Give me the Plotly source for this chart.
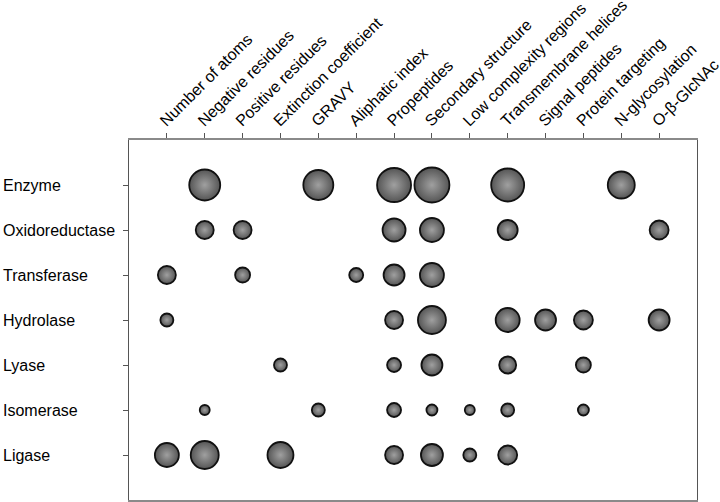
import plotly.graph_objects as go

features = ["Number of atoms", "Negative residues", "Positive residues", "Extinction coefficient",
            "GRAVY", "Aliphatic index", "Propeptides", "Secondary structure",
            "Low complexity regions", "Transmembrane helices", "Signal peptides",
            "Protein targeting", "N-glycosylation", "O-β-GlcNAc"]
classes = ["Enzyme", "Oxidoreductase", "Transferase", "Hydrolase", "Lyase", "Isomerase", "Ligase"]

# bubble magnitude per class, one value per feature (None = no bubble)
enzyme         = [None, 31, None, None, 30, None, 34, 35, None, 33, None, None, 27, None]
oxidoreductase = [None, 18, 18, None, None, None, 23, 24, None, 20, None, None, None, 19]
transferase    = [18, None, 15, None, None, 14, 21, 24, None, None, None, None, None, None]
hydrolase      = [13, None, None, None, None, None, 18, 28, None, 24, 21, 19, None, 21]
lyase          = [None, None, None, 13, None, None, 14, 21, None, 17, None, 15, None, None]
isomerase      = [None, 10, None, None, 13, None, 14, 11, 10, 13, None, 11, None, None]
ligase         = [24, 28, None, 26, None, None, 18, 22, 13, 19, None, None, None, None]

rows = [enzyme, oxidoreductase, transferase, hydrolase, lyase, isomerase, ligase]

xs, ys, ss = [], [], []
for cls, vals in zip(classes, rows):
    for feat, v in zip(features, vals):
        if v is not None:
            xs.append(feat)
            ys.append(cls)
            ss.append(v)

FONT = "Arial, Liberation Sans, sans-serif"

fig = go.Figure(go.Scatter(
    x=xs, y=ys, mode="markers",
    marker=dict(size=ss, sizemode="diameter", color="#555555",
                gradient=dict(type="radial", color="#a0a0a0"),
                line=dict(color="#111111", width=1.8), opacity=1),
    hoverinfo="skip", showlegend=False,
))

annotations = []
for cls in classes:
    annotations.append(dict(x=(1 - 129) / 568, xref="paper", y=cls, yref="y",
                            text=cls, showarrow=False, xanchor="left", yanchor="middle",
                            font=dict(family=FONT, size=16, color="#000000")))

fig.update_layout(
    width=720, height=502,
    margin=dict(l=129, r=23, t=140, b=2, autoexpand=False),
    paper_bgcolor="white", plot_bgcolor="white",
    font=dict(family=FONT, size=16, color="#000000"),
    annotations=annotations,
    xaxis=dict(type="category", categoryorder="array", categoryarray=features,
               side="top", range=[-1, 14], tickangle=-45, showgrid=False, zeroline=False,
               automargin=False, ticklabelstandoff=-3, ticklabelshift=-6,
               showline=True, linecolor="#8a8a8a", linewidth=2, mirror=True,
               ticks="outside", ticklen=5, tickcolor="#555555", tickwidth=1,
               tickfont=dict(family=FONT, size=16, color="#000000")),
    yaxis=dict(type="category", categoryorder="array", categoryarray=classes,
               range=[7, -1], showgrid=False, zeroline=False, showticklabels=False,
               automargin=False,
               showline=True, linecolor="#555555", linewidth=1, mirror=True,
               ticks="outside", ticklen=5, tickcolor="#555555", tickwidth=1),
)

fig.write_html("out.html", config={"displayModeBar": False},
               post_script="document.body.style.margin='0';document.body.style.overflow='hidden';")
